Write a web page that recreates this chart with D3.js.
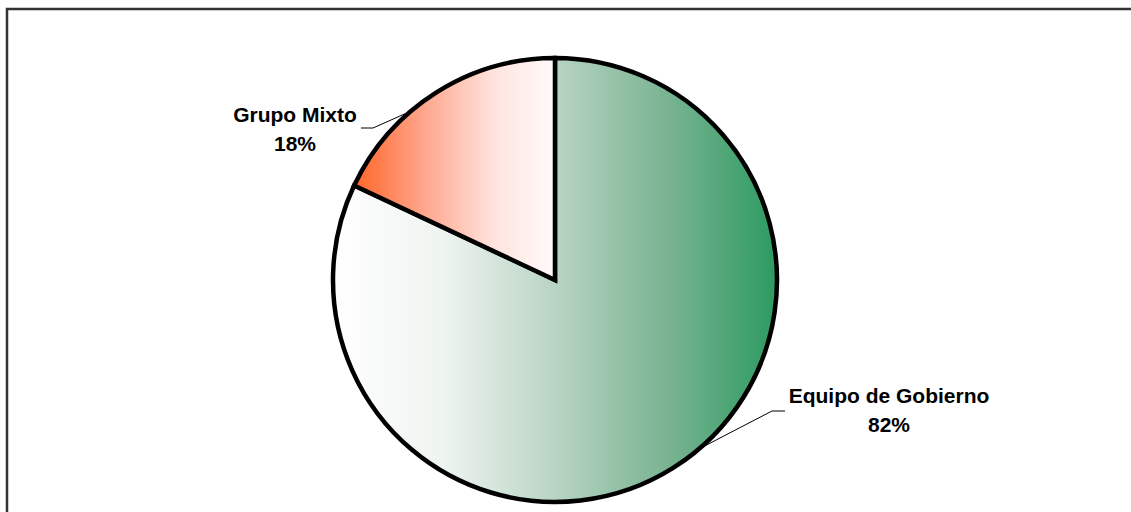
<!DOCTYPE html>
<html>
<head>
<meta charset="utf-8">
<script src="https://cdn.jsdelivr.net/npm/d3@7"></script>
<style>
  html, body { margin: 0; padding: 0; background: #fff; }
  svg { display: block; }
  text { font-family: "Liberation Sans", Arial, sans-serif; font-weight: bold; fill: #000; }
</style>
</head>
<body>
<svg id="chart" width="1131" height="512"></svg>
<script>
// Share of items by group
const categories = ["Equipo de Gobierno", "Grupo Mixto"];
const values = [82, 18];
const pctLabels = ["82%", "18%"];

// Layout
const W = 1131, H = 512;
const cx = 555, cy = 280, R = 222;
const labelLayout = [
  { x: 889, y: 403, leaderAngle: 139.5, elbow: [772, 411], end: [785, 411] },
  { x: 295, y: 122, leaderAngle: 319.5, elbow: [373, 128], end: [361, 128] }
];
const gradientStops = [
  [{ o: 0, c: "#ffffff" }, { o: 0.25, c: "#eef4f0" }, { o: 0.5, c: "#b8d4c3" }, { o: 0.75, c: "#7ab493" }, { o: 1, c: "#2d9a61" }],
  [{ o: 0, c: "#ff6628" }, { o: 0.35, c: "#ffa68e" }, { o: 0.7, c: "#ffe4de" }, { o: 1, c: "#fffafa" }]
];

const svg = d3.select("#chart");

// Outer frame
svg.append("rect")
  .attr("x", 7).attr("y", 9)
  .attr("width", W + 40).attr("height", H + 40)
  .attr("fill", "#fff")
  .attr("stroke", "#333").attr("stroke-width", 2.5);

const defs = svg.append("defs");
gradientStops.forEach((stops, i) => {
  const g = defs.append("linearGradient")
    .attr("id", "grad" + i)
    .attr("x1", "0%").attr("y1", "0%").attr("x2", "100%").attr("y2", "0%");
  stops.forEach(s => g.append("stop").attr("offset", s.o).attr("stop-color", s.c));
});

const pie = d3.pie().sort(null).value(d => d)(values);
const arc = d3.arc().innerRadius(0).outerRadius(R);

const g = svg.append("g").attr("transform", `translate(${cx},${cy})`);

g.selectAll("path.slice")
  .data(pie)
  .join("path")
  .attr("class", "slice")
  .attr("d", arc)
  .attr("fill", (d, i) => `url(#grad${i})`)
  .attr("stroke", "#000")
  .attr("stroke-width", 4.5)
  .attr("stroke-linejoin", "miter");

// Leader lines and labels
categories.forEach((cat, i) => {
  const L = labelLayout[i];
  const a = L.leaderAngle * Math.PI / 180;
  const sx = cx + R * Math.sin(a), sy = cy - R * Math.cos(a);
  svg.append("polyline")
    .attr("points", [[sx, sy], L.elbow, L.end].map(p => p.join(",")).join(" "))
    .attr("fill", "none")
    .attr("stroke", "#000")
    .attr("stroke-width", 1);
  const t = svg.append("text")
    .attr("x", L.x).attr("y", L.y)
    .attr("text-anchor", "middle")
    .attr("font-size", 21);
  t.append("tspan").attr("x", L.x).text(cat);
  t.append("tspan").attr("x", L.x).attr("dy", 28.5).text(pctLabels[i]);
});
</script>
</body>
</html>
